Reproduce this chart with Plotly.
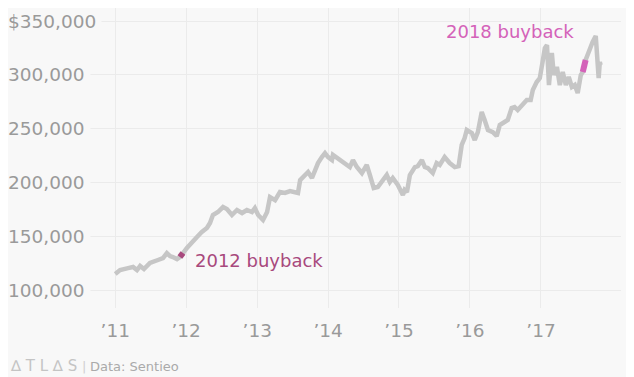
import plotly.graph_objects as go

# --- data ---
dates = [
    "2011-01-01", "2011-01-26", "2011-03-08", "2011-04-03", "2011-04-23", "2011-05-09", "2011-05-29",
    "2011-06-29", "2011-08-09", "2011-09-04", "2011-09-24", "2011-10-10", "2011-10-25", "2011-11-15",
    "2011-11-30", "2011-12-11", "2011-12-16", "2012-01-05", "2012-01-31", "2012-02-26", "2012-03-22",
    "2012-04-17", "2012-05-03", "2012-05-18", "2012-06-13", "2012-07-09", "2012-07-29", "2012-08-24",
    "2012-09-19", "2012-10-15", "2012-11-09", "2012-12-05", "2012-12-20", "2013-01-06", "2013-01-31",
    "2013-02-21", "2013-03-08", "2013-04-03", "2013-04-28", "2013-05-24", "2013-06-19", "2013-07-15",
    "2013-07-30", "2013-08-10", "2013-09-04", "2013-09-20", "2013-10-10", "2013-10-25", "2013-11-10",
    "2013-11-30", "2013-12-16", "2014-01-01", "2014-01-21", "2014-01-26", "2014-02-16", "2014-03-13",
    "2014-04-08", "2014-04-23", "2014-05-09", "2014-05-29", "2014-06-24", "2014-07-19", "2014-08-04",
    "2014-08-24", "2014-09-14", "2014-10-05", "2014-10-30", "2014-11-15", "2014-11-30", "2014-12-26",
    "2015-01-21", "2015-01-30", "2015-02-11", "2015-02-26", "2015-03-24", "2015-04-08", "2015-04-29",
    "2015-05-14", "2015-05-29", "2015-06-24", "2015-07-14", "2015-07-30", "2015-08-24", "2015-09-19",
    "2015-10-15", "2015-11-04", "2015-11-20", "2015-12-05", "2015-12-16", "2016-01-11", "2016-01-26",
    "2016-02-11", "2016-03-02", "2016-03-17", "2016-04-03", "2016-04-28", "2016-05-18", "2016-06-03",
    "2016-06-28", "2016-07-14", "2016-08-03", "2016-08-18", "2016-09-03", "2016-09-29", "2016-10-20",
    "2016-11-09", "2016-11-20", "2016-12-10", "2016-12-26", "2017-01-11", "2017-01-21", "2017-02-01",
    "2017-02-11", "2017-02-26", "2017-03-08", "2017-03-24", "2017-04-08", "2017-04-23", "2017-05-09",
    "2017-05-24", "2017-06-09", "2017-06-24", "2017-07-09", "2017-07-25", "2017-08-04", "2017-08-19",
    "2017-09-09", "2017-09-24", "2017-10-10", "2017-10-15", "2017-10-25", "2017-10-31", "2017-11-04",
]
values = [
    115000, 118600, 120400, 121400, 118600, 122300, 119500,
    125100, 127900, 129700, 134400, 131600, 130700, 128800,
    130700, 132500, 134400, 139000, 144600, 149300, 153900,
    157600, 162300, 169700, 172500, 177100, 175300, 169700,
    174400, 171600, 174400, 172500, 176200, 169700, 165100,
    172500, 186400, 183600, 191100, 190200, 192000, 190200,
    190200, 202200, 206900, 209700, 204100, 211500, 218000,
    223600, 227300, 223600, 220800, 225500, 222700, 219000,
    216200, 214300, 220800, 214300, 208700, 216200, 206900,
    194800, 195700, 200400, 206900, 200400, 204100, 197600,
    188300, 193000, 191100, 206900, 214300, 215200, 220800,
    214300, 213400, 208700, 218000, 216200, 223600, 218000,
    214300, 215200, 234800, 241300, 248700, 245900, 239400,
    246800, 265400, 258000, 248700, 246800, 243100, 253400,
    256100, 258000, 269200, 270100, 267300, 272900, 276600,
    276600, 285900, 293300, 297000, 313800, 324900, 327700,
    290500, 320300, 299800, 307300, 290500, 302600, 290500,
    298000, 288700, 290500, 283100, 299800, 302600, 313800,
    324900, 330500, 336100, 318400, 297000, 311900, 309100,
]

buyback_2012_dates = ["2011-11-30", "2011-12-11", "2011-12-16"]
buyback_2012_values = [130700, 132500, 134400]
buyback_2018_dates = ["2017-08-04", "2017-08-19"]
buyback_2018_values = [302600, 313800]

year_ticks = ["2011-01-01", "2012-01-01", "2013-01-01", "2014-01-01",
              "2015-01-01", "2016-01-01", "2017-01-01"]
year_labels = ["’11", "’12", "’13", "’14", "’15", "’16", "’17"]
y_ticks = [100000, 150000, 200000, 250000, 300000, 350000]
y_labels = ["100,000", "150,000", "200,000", "250,000", "300,000", "$350,000"]

BG = "#f8f8f8"
GRID = "#ebebeb"
TICK = "#9a9a9a"
FONT = "DejaVu Sans"

fig = go.Figure()
fig.add_trace(go.Scatter(x=dates, y=values, mode="lines",
                         line=dict(color="#c6c6c6", width=4.5), hoverinfo="skip"))
fig.add_trace(go.Scatter(x=buyback_2012_dates, y=buyback_2012_values, mode="lines",
                         line=dict(color="#a8497d", width=6), hoverinfo="skip"))
fig.add_trace(go.Scatter(x=buyback_2018_dates, y=buyback_2018_values, mode="lines",
                         line=dict(color="#d462b9", width=6), hoverinfo="skip"))

# y tick labels drawn over the gridlines, left aligned
for v, t in zip(y_ticks, y_labels):
    fig.add_annotation(x=0, xref="paper", xanchor="left", y=v, yref="y", yanchor="middle",
                       text=t, showarrow=False, bgcolor=BG, borderpad=5, xshift=-6,
                       font=dict(family=FONT, size=18.5, color=TICK))

fig.add_annotation(x="2012-02-06", y=127000, xanchor="left", yanchor="middle",
                   text="2012 buyback", showarrow=False,
                   font=dict(family=FONT, size=18, color="#a8497d"))
fig.add_annotation(x="2016-07-24", y=340700, xanchor="center", yanchor="middle",
                   text="2018 buyback", showarrow=False,
                   font=dict(family=FONT, size=18, color="#d462b9"))

fig.add_annotation(x=0, xref="paper", xanchor="left", y=0, yref="paper", yanchor="middle",
                   text="∆ T L ∆ S", showarrow=False, xshift=0, yshift=-58,
                   font=dict(family=FONT, size=15, color="#c4c4c4"))
fig.add_annotation(x=0, xref="paper", xanchor="left", y=0, yref="paper", yanchor="middle",
                   text="|", showarrow=False, xshift=72, yshift=-58,
                   font=dict(family=FONT, size=13, color="#d0d0d0"))
fig.add_annotation(x=0, xref="paper", xanchor="left", y=0, yref="paper", yanchor="middle",
                   text="Data: Sentieo", showarrow=False, xshift=80, yshift=-58,
                   font=dict(family=FONT, size=13, color="#aaaaaa"))

fig.update_layout(
    width=626, height=369,
    paper_bgcolor=BG, plot_bgcolor=BG,
    margin=dict(l=0, r=13, t=0, b=69),
    showlegend=False,
    xaxis=dict(range=["2009-06-28", "2018-02-17"], tickvals=year_ticks, ticktext=year_labels,
               showgrid=True, gridcolor=GRID, gridwidth=1, zeroline=False, showline=False,
               ticks="outside", ticklen=6, tickcolor="rgba(0,0,0,0)",
               tickfont=dict(family=FONT, size=18.5, color=TICK)),
    yaxis=dict(range=[83300, 362100], tickvals=y_ticks, showticklabels=False,
               showgrid=True, gridcolor=GRID, gridwidth=1, zeroline=False, showline=False),
)

fig.write_html("out.html")
